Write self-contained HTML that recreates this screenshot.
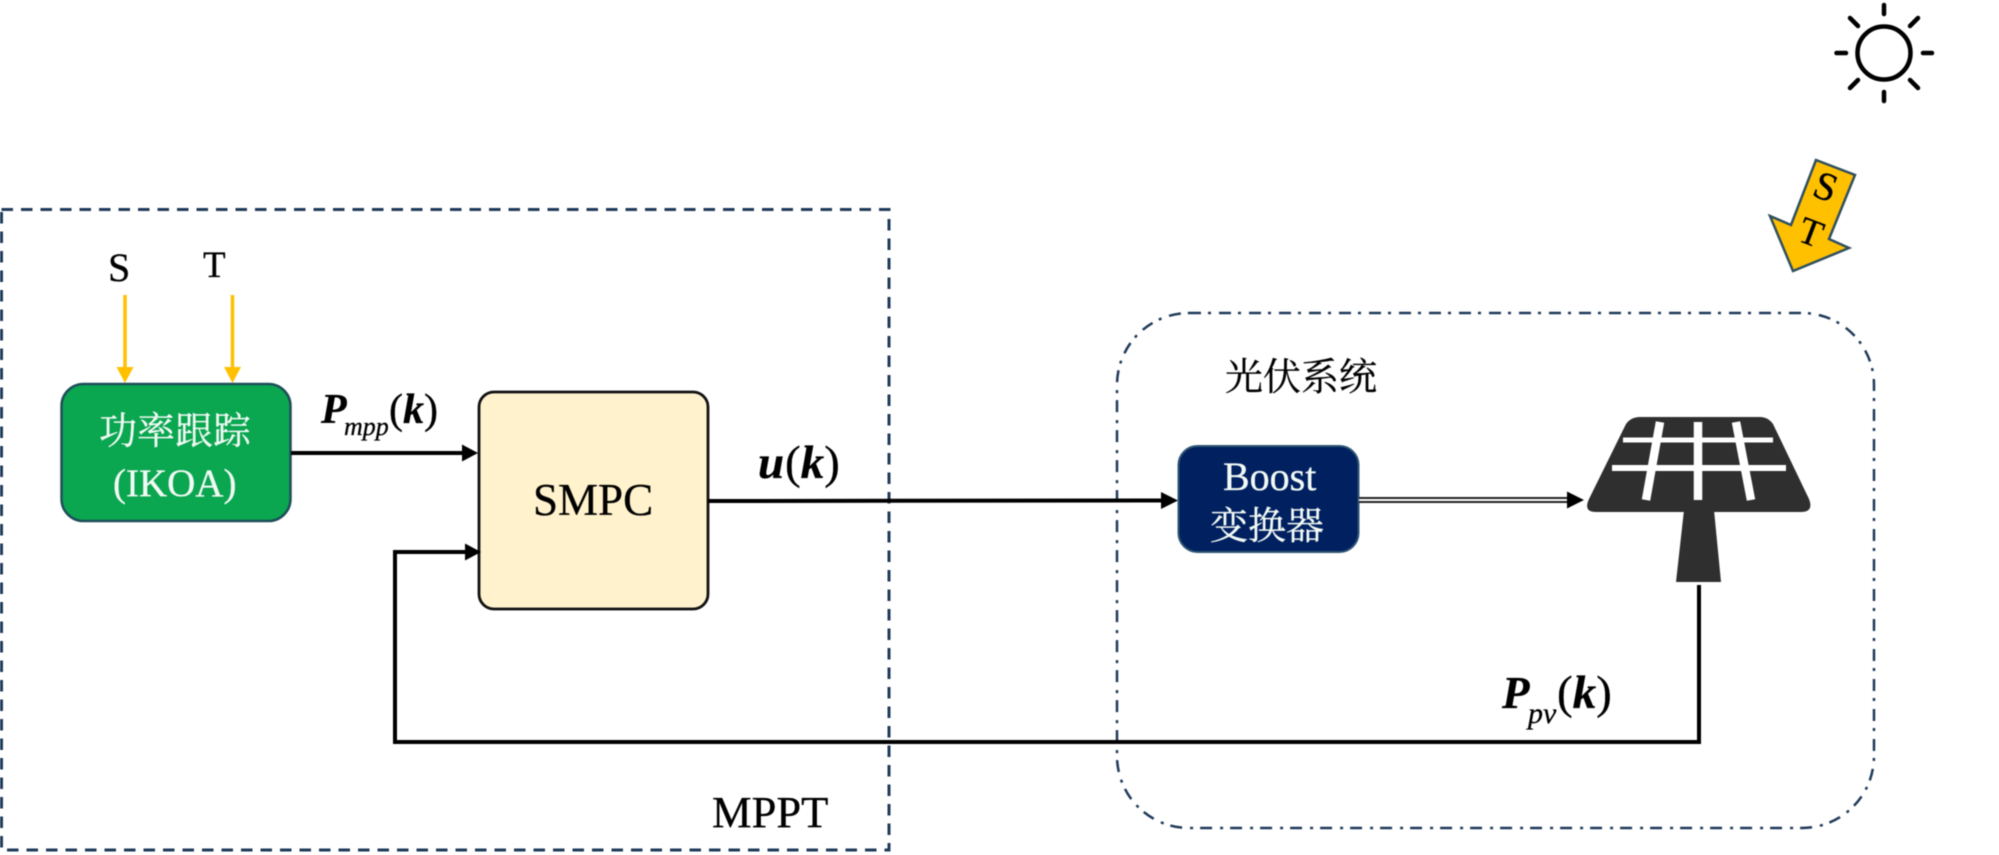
<!DOCTYPE html>
<html lang="zh">
<head>
<meta charset="utf-8">
<title>MPPT diagram</title>
<style>
html,body{margin:0;padding:0;background:#fff;width:1999px;height:855px;overflow:hidden}
svg{display:block;filter:blur(0.45px)}
text{font-family:"Liberation Serif","Noto Serif CJK SC",serif;fill:#000;stroke:#000;stroke-width:.3px}
.w{fill:#f2faf5;stroke:#f2faf5}
.bi{font-weight:bold;font-style:italic}
.i{font-style:italic}
</style>
</head>
<body>
<svg width="1999" height="855" viewBox="0 0 1999 855" xmlns="http://www.w3.org/2000/svg">
<rect width="1999" height="855" fill="#fff"/>

<!-- MPPT dashed frame -->
<rect x="1.500" y="209.500" width="887.500" height="640.500" fill="none" stroke="#1f3a5a" stroke-width="3" stroke-dasharray="11.500 8"/>
<!-- PV dash-dot frame -->
<rect x="1117" y="313" width="757" height="515" rx="72" ry="72" fill="none" stroke="#1f3a5a" stroke-width="2.500" stroke-dasharray="12 7 3 8"/>

<!-- S, T -->
<text x="108" y="281" font-size="40">S</text>
<text x="203" y="277" font-size="37">T</text>
<line x1="125" y1="295" x2="125" y2="370" stroke="#ffc000" stroke-width="3.500"/>
<polygon points="116.500,367 133.500,367 125,383" fill="#ffc000"/>
<line x1="232.500" y1="295" x2="232.500" y2="370" stroke="#ffc000" stroke-width="3.500"/>
<polygon points="224,367 241,367 232.500,383" fill="#ffc000"/>

<!-- Green box -->
<rect x="61.500" y="384" width="229" height="137" rx="22" ry="22" fill="#0aa650" stroke="#1f4e5a" stroke-width="2.500"/>
<text class="w" x="99" y="444" font-size="38">功率跟踪</text>
<text class="w" x="113" y="496" font-size="39">(IKOA)</text>

<!-- Pmpp(k) -->
<text class="bi" x="321" y="423" font-size="42">P</text>
<text class="i" x="344" y="435" font-size="26">mpp</text>
<text x="389" y="423" font-size="42">(<tspan class="bi">k</tspan>)</text>

<!-- Arrow to SMPC -->
<line x1="291" y1="453" x2="464" y2="453" stroke="#000" stroke-width="4"/>
<polygon points="462,444.500 478,453 462,461.500" fill="#000"/>

<!-- SMPC -->
<rect x="479" y="392" width="229" height="217" rx="15" ry="15" fill="#fff2cc" stroke="#111" stroke-width="2.800"/>
<text x="533" y="515" font-size="45">SMPC</text>

<!-- u(k) -->
<text class="bi" x="758" y="478" font-size="47">u</text>
<text x="785" y="478" font-size="47">(<tspan class="bi">k</tspan>)</text>

<!-- u(k) arrow -->
<line x1="708" y1="501" x2="1163" y2="500.500" stroke="#000" stroke-width="4"/>
<polygon points="1161,492 1178,500.500 1161,509" fill="#000"/>

<!-- Boost box -->
<rect x="1178.500" y="446" width="180" height="106" rx="19" ry="19" fill="#002060" stroke="#2f5573" stroke-width="2"/>
<text class="w" x="1223" y="490" font-size="40">Boost</text>
<text class="w" x="1210" y="539" font-size="38">变换器</text>

<!-- Double arrow -->
<line x1="1359" y1="500" x2="1569" y2="500" stroke="#222" stroke-width="6"/>
<line x1="1359" y1="500" x2="1569" y2="500" stroke="#fff" stroke-width="2"/>
<polygon points="1567,491.500 1584,500 1567,508.500" fill="#000"/>

<!-- Solar panel -->
<path d="M1640 417 H1760 Q1768 417 1773 424 L1809 499 Q1814 512 1801 512 H1596 Q1583 512 1589 499 L1626 424 Q1631 417 1640 417 Z" fill="#2f2f2f"/>
<polygon points="1684,510 1714,510 1721,582 1676,582" fill="#2f2f2f"/>
<g stroke="#fff">
<line x1="1623" y1="440" x2="1773" y2="440" stroke-width="5"/>
<line x1="1612" y1="468" x2="1786" y2="468" stroke-width="6"/>
<line x1="1660" y1="422" x2="1646" y2="500" stroke-width="8.500"/>
<line x1="1698" y1="422" x2="1698" y2="500" stroke-width="8.500"/>
<line x1="1736" y1="422" x2="1751" y2="500" stroke-width="8.500"/>
</g>

<!-- Feedback -->
<polyline points="1699,585 1699,742 395,742 395,552 467,552" fill="none" stroke="#000" stroke-width="4"/>
<polygon points="465,543.500 481,552 465,560.500" fill="#000"/>

<!-- Ppv(k) -->
<text class="bi" x="1502" y="708" font-size="45">P</text>
<text class="i" x="1528" y="723" font-size="30">pv</text>
<text x="1557" y="708" font-size="47">(<tspan class="bi">k</tspan>)</text>

<!-- Labels -->
<text x="1225" y="390" font-size="38">光伏系统</text>
<text x="712" y="827" font-size="44.500">MPPT</text>

<!-- Sun -->
<g fill="none" stroke="#000" stroke-width="4.500" stroke-linecap="round">
<circle cx="1884" cy="53" r="26.500"/>
<line x1="1884" y1="5" x2="1884" y2="14"/>
<line x1="1884" y1="92" x2="1884" y2="101"/>
<line x1="1836.500" y1="53" x2="1846" y2="53"/>
<line x1="1923" y1="53" x2="1932" y2="53"/>
<line x1="1850" y1="18" x2="1858" y2="26"/>
<line x1="1918" y1="18" x2="1910" y2="26"/>
<line x1="1850" y1="88" x2="1858" y2="80"/>
<line x1="1918" y1="88" x2="1910" y2="80"/>
</g>

<!-- ST arrow -->
<polygon points="1816,160 1855,175 1829,239 1849,248 1793,271 1770,216 1791,225" fill="#ffc000" stroke="#2f4f5f" stroke-width="2.500" stroke-linejoin="miter"/>
<text font-size="40" text-anchor="middle" transform="translate(1821,199) rotate(21)">S</text>
<text font-size="38" text-anchor="middle" transform="translate(1806.500,244) rotate(21)">T</text>
</svg>
</body>
</html>
